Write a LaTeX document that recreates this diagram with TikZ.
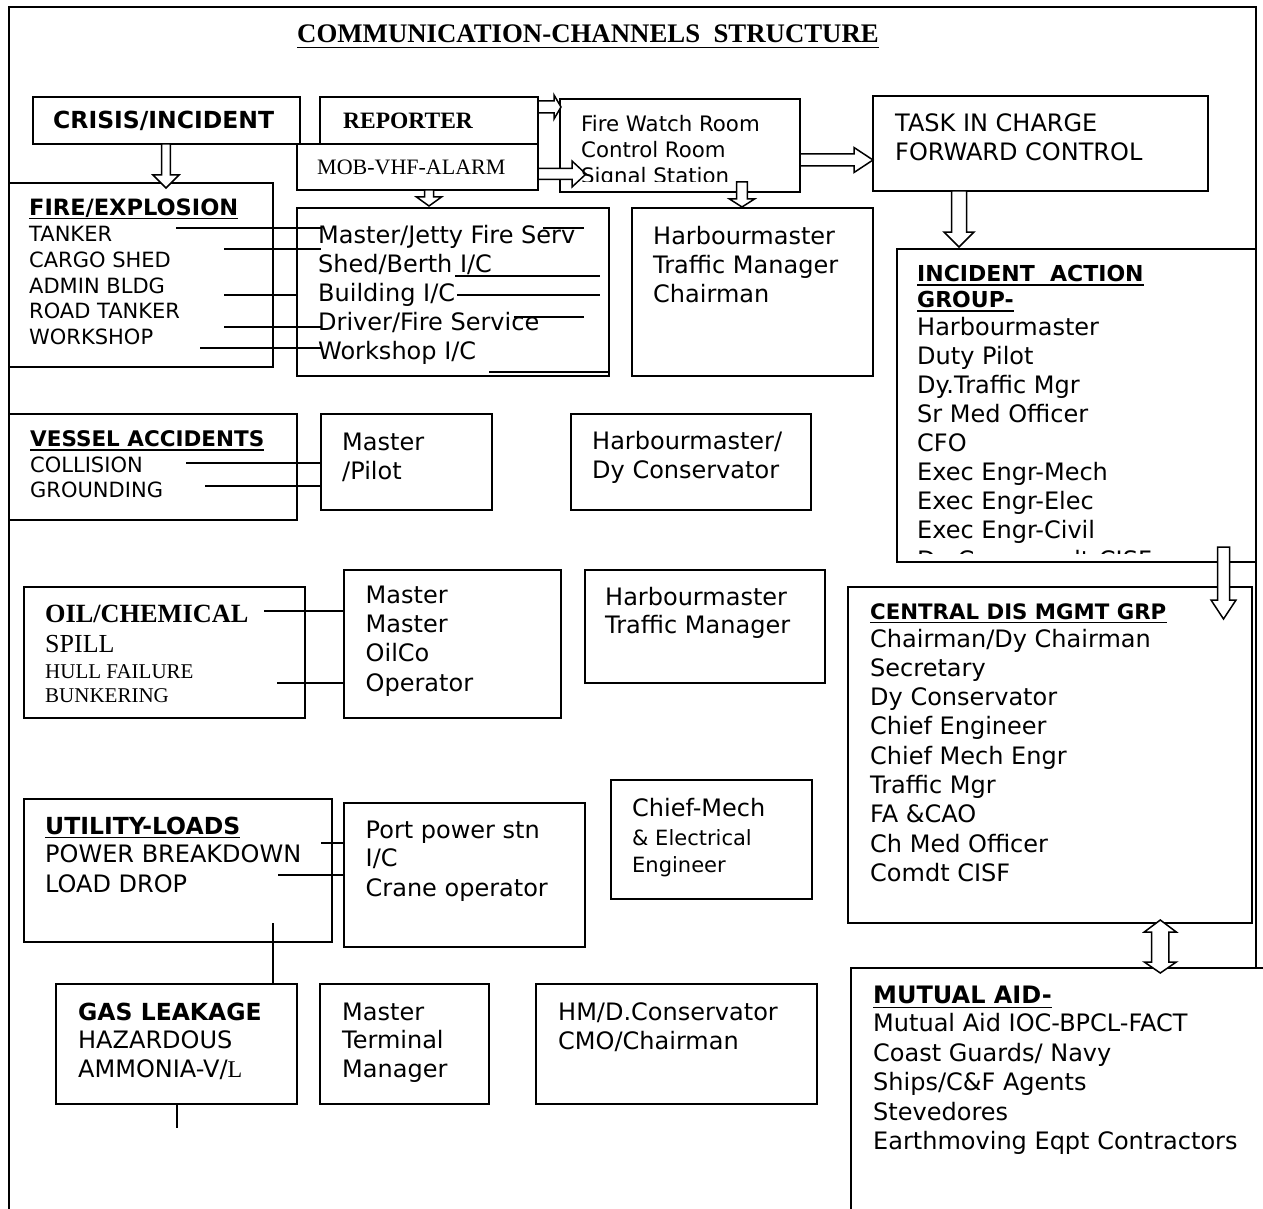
\documentclass[tikz,border=0pt]{standalone}
\usepackage{fontspec}
\setmainfont{DejaVu Sans}
\newfontfamily\serifface{Liberation Serif}
\usetikzlibrary{fit}

\tikzset{
  box/.style={draw, line width=1.8pt, inner sep=0pt},
  conn/.style={line width=1.8pt},
  barrow/.style={draw, line width=1.5pt, fill=white, line join=miter},
  lbl/.style={anchor=base west, inner sep=0pt},
  sz/.style={lbl, font=\fontsize{#1}{#1}\selectfont},
  bsz/.style={lbl, font=\fontsize{#1}{#1}\selectfont\bfseries},
  ssz/.style={lbl, font=\fontsize{#1}{#1}\selectfont\serifface},
  sbsz/.style={lbl, font=\fontsize{#1}{#1}\selectfont\serifface\bfseries},
}

% rectangle node spanning two corners
\newcommand\bx[5]{\node[box, fit={(#2,#3)(#4,#5)}] (#1) {};}
% straight connector between two named end points
\newcommand\seg[5]{\coordinate (#1-a) at (#2,#3); \coordinate (#1-b) at (#4,#5); \draw[conn] (#1-a) -- (#1-b);}
% hollow block arrow pointing down: cx, top, head base, tip, shaft half width, head half width
\newcommand\downblock[6]{\draw[barrow] ({#1-#5},#2) -- ({#1-#5},#3) -- ({#1-#6},#3) -- (#1,#4) -- ({#1+#6},#3) -- ({#1+#5},#3) -- ({#1+#5},#2) -- cycle;}
% hollow block arrow pointing right: cy, start, head base, tip, shaft half width, head half width
\newcommand\rightblock[6]{\draw[barrow] (#2,{#1-#5}) -- (#3,{#1-#5}) -- (#3,{#1-#6}) -- (#4,#1) -- (#3,{#1+#6}) -- (#3,{#1+#5}) -- (#2,{#1+#5}) -- cycle;}
% underline below a text node
\newcommand\ulin[2]{\draw[line width=1.6pt] ([yshift=-#2]#1.base west) -- ([yshift=-#2]#1.base east);}

\begin{document}
\begin{tikzpicture}[x=1pt,y=-1pt]
\useasboundingbox (0,0) rectangle (1263,1209);
\fill[white] (0,0) rectangle (1263,1209);

% outer frame (open at the bottom)
\coordinate (fBL) at (9,1209);
\coordinate (fTL) at (9,7);
\coordinate (fTR) at (1256,7);
\coordinate (fBR) at (1256,968);
\draw[conn] (fBL) -- (fTL) -- (fTR) -- (fBR);

% title
\node[sbsz=26.8] (title) at (297,43) {COMMUNICATION-CHANNELS\ \ STRUCTURE};
\ulin{title}{4.5pt}

% ---------- boxes ----------
\bx{crisis}{33}{97}{300}{144}
\bx{reporter}{320}{97}{538}{144}
\bx{mob}{297}{144}{538}{190}
\bx{watch}{560}{99}{800}{192}
\bx{task}{873}{96}{1208}{191}
\bx{fire}{9}{183}{273}{367}
\bx{firecall}{297}{208}{609}{376}
\bx{harb}{632}{208}{873}{376}
\bx{iag}{897}{249}{1256}{562}
\bx{vessel}{9}{414}{297}{520}
\bx{pilot}{321}{414}{492}{510}
\bx{conserv}{571}{414}{811}{510}
\bx{oil}{24}{587}{305}{718}
\bx{oilco}{344}{570}{561}{718}
\bx{harbtm}{585}{570}{825}{683}
\bx{cdmg}{848}{587}{1252}{923}
\bx{utility}{24}{799}{332}{942}
\bx{power}{344}{803}{585}{947}
\bx{chiefmech}{611}{780}{812}{899}
\bx{gas}{56}{984}{297}{1104}
\bx{terminal}{320}{984}{489}{1104}
\bx{hmcmo}{536}{984}{817}{1104}
% mutual aid box, open to the right and at the bottom
\coordinate (maBL) at (851,1209);
\coordinate (maTL) at (851,968);
\coordinate (maTR) at (1263,968);
\draw[conn] (maBL) -- (maTL) -- (maTR);

% ---------- connector lines ----------
\seg{l1}{176}{228}{321}{228}
\seg{l2}{224}{249}{321}{249}
\seg{l3}{224}{295}{297}{295}
\seg{l4}{224}{327}{321}{327}
\seg{l5}{200}{348}{321}{348}
\seg{r1}{543}{228}{584}{228}
\seg{r2}{455}{276}{600}{276}
\seg{r3}{457}{295}{600}{295}
\seg{r4}{514}{317}{584}{317}
\seg{r5}{489}{372}{609}{372}
\seg{v1}{186}{463}{321}{463}
\seg{v2}{205}{486}{321}{486}
\seg{o1}{264}{611}{344}{611}
\seg{o2}{277}{683}{344}{683}
\seg{u1}{321}{843}{344}{843}
\seg{u2}{278}{875}{344}{875}
\seg{u3}{273}{923}{273}{984}
\seg{g1}{177}{1104}{177}{1128}

% ---------- block arrows ----------
\downblock{166}{144}{175}{188}{4.3}{13}
\rightblock{107}{538}{554}{561}{6}{12}
\rightblock{174}{538}{572}{586}{5.5}{13}
\downblock{429}{190}{197}{206}{4.5}{12.5}
\downblock{742}{182}{199}{207}{5.3}{12.5}
\rightblock{160}{800}{854}{873}{6}{12.5}
\downblock{959}{191}{232}{247}{7.5}{15}
\downblock{1223.5}{547}{600}{619}{6}{12.5}
\draw[barrow] (1151.7,932) -- (1144.3,932) -- (1160.3,920) -- (1176.3,932) -- (1168.9,932)
  -- (1168.9,962) -- (1176.3,962) -- (1160.3,973) -- (1144.3,962) -- (1151.7,962) -- cycle;

% ---------- texts ----------
\node[bsz=23.5] (crisisT) at (53,129) {CRISIS/INCIDENT};
\node[sbsz=23.5] (repT) at (343,129) {REPORTER};
\node[ssz=22] (mobT) at (317,175) {MOB-VHF-ALARM};

\begin{scope}
  \clip (560,99) rectangle (800,182);
  \node[sz=21.3] (fw1) at (581,132) {Fire Watch Room};
  \node[sz=21.3] (fw2) at (581,157.5) {Control Room};
  \node[sz=21.3] (fw3) at (581,183.5) {Signal Station};
\end{scope}

\node[sz=24] (task1) at (895,132) {TASK IN CHARGE};
\node[sz=24] (task2) at (895,161) {FORWARD CONTROL};

\node[bsz=22.5] (fireH) at (29,215) {FIRE/EXPLOSION};
\ulin{fireH}{3.5pt}
\node[sz=21] (fire1) at (29,241.7) {TANKER};
\node[sz=21] (fire2) at (29,267.3) {CARGO SHED};
\node[sz=21] (fire3) at (29,293) {ADMIN BLDG};
\node[sz=21] (fire4) at (29,318.7) {ROAD TANKER};
\node[sz=21] (fire5) at (29,344.3) {WORKSHOP};

\node[sz=24] (mid1) at (318,243.3) {Master/Jetty Fire Serv};
\node[sz=24] (mid2) at (318,272.3) {Shed/Berth I/C};
\node[sz=24] (mid3) at (318,301.3) {Building I/C};
\node[sz=24] (mid4) at (318,330.3) {Driver/Fire Service};
\node[sz=24] (mid5) at (318,359.3) {Workshop I/C};

\node[sz=24] (hb1) at (653,244) {Harbourmaster};
\node[sz=24] (hb2) at (653,273) {Traffic Manager};
\node[sz=24] (hb3) at (653,302) {Chairman};

\node[bsz=22] (iagH1) at (917,281.7) {INCIDENT\ \ ACTION};
\ulin{iagH1}{3.5pt}
\node[bsz=22] (iagH2) at (917,307.7) {GROUP-};
\ulin{iagH2}{3.5pt}
\begin{scope}
  \clip (897,249) rectangle (1256,553.5);
  \node[sz=24] (iag1) at (917,335) {Harbourmaster};
  \node[sz=24] (iag2) at (917,364.1) {Duty Pilot};
  \node[sz=24] (iag3) at (917,393.2) {Dy.Traffic Mgr};
  \node[sz=24] (iag4) at (917,422.3) {Sr Med Officer};
  \node[sz=24] (iag5) at (917,451.4) {CFO};
  \node[sz=24] (iag6) at (917,480.5) {Exec Engr-Mech};
  \node[sz=24] (iag7) at (917,509.6) {Exec Engr-Elec};
  \node[sz=24] (iag8) at (917,538.7) {Exec Engr-Civil};
  \node[sz=24] (iag9) at (917,568.5) {Dy Commandt-CISF};
\end{scope}

\node[bsz=21.5] (vesH) at (30,446.7) {VESSEL ACCIDENTS};
\ulin{vesH}{3.5pt}
\node[sz=21] (ves1) at (30,472.7) {COLLISION};
\node[sz=21] (ves2) at (30,497.7) {GROUNDING};

\node[sz=24] (mp1) at (342,450) {Master};
\node[sz=24] (mp2) at (342,479) {/Pilot};

\node[sz=24] (hd1) at (592,449) {Harbourmaster/};
\node[sz=24] (hd2) at (592,478) {Dy Conservator};

\node[sbsz=26.3] (oil1) at (45,622) {OIL/CHEMICAL};
\node[ssz=26] (oil2) at (45,652.3) {SPILL};
\node[ssz=21] (oil3) at (45,678.3) {HULL FAILURE};
\node[ssz=21] (oil4) at (45,702.7) {BUNKERING};

\node[sz=24] (mo1) at (365.5,603.3) {Master};
\node[sz=24] (mo2) at (365.5,632.3) {Master};
\node[sz=24] (mo3) at (365.5,661.7) {OilCo};
\node[sz=24] (mo4) at (365.5,691) {Operator};

\node[sz=24] (ht1) at (605,605) {Harbourmaster};
\node[sz=24] (ht2) at (605,633) {Traffic Manager};

\node[bsz=21.3] (cdH) at (870,619) {CENTRAL DIS MGMT GRP};
\ulin{cdH}{3.5pt}
\node[sz=24] (cd1) at (870,647) {Chairman/Dy Chairman};
\node[sz=24] (cd2) at (870,676.3) {Secretary};
\node[sz=24] (cd3) at (870,705.6) {Dy Conservator};
\node[sz=24] (cd4) at (870,734.9) {Chief Engineer};
\node[sz=24] (cd5) at (870,764.2) {Chief Mech Engr};
\node[sz=24] (cd6) at (870,793.5) {Traffic Mgr};
\node[sz=24] (cd7) at (870,822.8) {FA \&CAO};
\node[sz=24] (cd8) at (870,852.1) {Ch Med Officer};
\node[sz=24] (cd9) at (870,881.4) {Comdt CISF};

\node[bsz=23.5] (utH) at (45,834) {UTILITY-LOADS};
\ulin{utH}{3.5pt}
\node[sz=24] (ut1) at (45,862.5) {POWER BREAKDOWN};
\node[sz=24] (ut2) at (45,892) {LOAD DROP};

\node[sz=24] (pp1) at (365.5,838.3) {Port power stn};
\node[sz=24] (pp2) at (365.5,866.7) {I/C};
\node[sz=24] (pp3) at (365.5,896) {Crane operator};

\node[sz=24] (cm1) at (632,816) {Chief-Mech};
\node[sz=21] (cm2) at (632,845) {\& Electrical};
\node[sz=21] (cm3) at (632,872) {Engineer};

\node[bsz=23.5] (gasH) at (78,1020) {GAS LEAKAGE};
\node[sz=24] (gas1) at (78,1048.3) {HAZARDOUS};
\node[sz=24] (gas2) at (78,1077.3) {AMMONIA-V/{\serifface L}};

\node[sz=24] (mt1) at (342,1020) {Master};
\node[sz=24] (mt2) at (342,1048.5) {Terminal};
\node[sz=24] (mt3) at (342,1077.3) {Manager};

\node[sz=24] (hc1) at (558,1020) {HM/D.Conservator};
\node[sz=24] (hc2) at (558,1049.3) {CMO/Chairman};

\node[bsz=24] (maH) at (873,1003.3) {MUTUAL AID-};
\ulin{maH}{4pt}
\node[sz=24] (ma1) at (873,1031.7) {Mutual Aid IOC-BPCL-FACT};
\node[sz=24] (ma2) at (873,1061.2) {Coast Guards/ Navy};
\node[sz=24] (ma3) at (873,1090.7) {Ships/C\&F Agents};
\node[sz=24] (ma4) at (873,1120.2) {Stevedores};
\node[sz=24] (ma5) at (873,1149.7) {Earthmoving Eqpt Contractors};
\end{tikzpicture}
\end{document}
